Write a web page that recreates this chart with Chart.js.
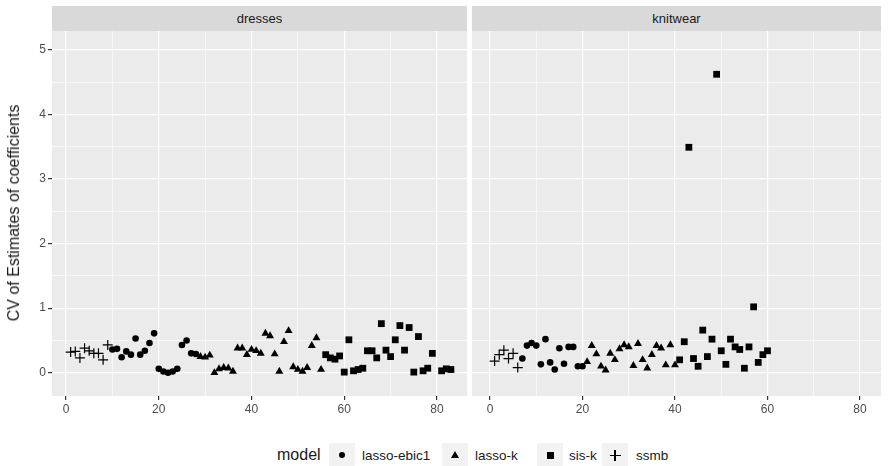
<!DOCTYPE html>
<html lang="en">
  <head>
    <meta charset="UTF-8" />
    <title>CV of Estimates of coefficients</title>
    <script src="https://cdn.jsdelivr.net/npm/chart.js"></script>
    <style>
      body {
          margin: 0;
          width: 888px;
          height: 466px;
          position: relative;
          overflow: hidden;
          background: #fff;
          font-family: "Liberation Sans", Arial, sans-serif;
      }
      .strip {
          position: absolute;
          top: 6px;
          height: 25px;
          line-height: 25px;
          background: #d9d9d9;
          color: #1a1a1a;
          font-size: 13px;
          text-align: center;
      }
      .panel {
          position: absolute;
          top: 31px;
      }
      #ytitle {
          position: absolute;
          left: 14px;
          top: 213px;
          transform: translate(-50%, -50%) rotate(-90deg);
          font-size: 16px;
          color: #1a1a1a;
          white-space: nowrap;
      }
      .ltitle, .lab {
          position: absolute;
          top: 455px;
          transform: translateY(-50%);
          white-space: nowrap;
          color: #1a1a1a;
      }
      .ltitle { font-size: 16px; }
      .lab { font-size: 13.5px; }
      .key {
          position: absolute;
          top: 443px;
          width: 26px;
          height: 24px;
          background: #f2f2f2;
      }
      .key div { position: absolute; background: #000; }
    </style>
  </head>
  <body>
    <div class="strip" id="strip1" style="left:52px; width:415px;"></div>
    <div class="strip" id="strip2" style="left:472px; width:409px;"></div>
    <canvas class="panel" id="dressesChart" width="467" height="389" style="left:0px;"></canvas>
    <canvas class="panel" id="knitChart" width="409" height="389" style="left:472px;"></canvas>
    <div id="ytitle">CV of Estimates of coefficients</div>
    <div id="legend"></div>

    <script>
      var facets = ["dresses", "knitwear"];
      var models = ["lasso-ebic1", "lasso-k", "sis-k", "ssmb"];
      var xTicks = [0, 20, 40, 60, 80];
      var yTicks = [0, 1, 2, 3, 4, 5];

      // dresses
      var dressSsmbX = [1, 2, 3, 4, 5, 6, 7, 8, 9];
      var dressSsmbY = [0.32, 0.33, 0.23, 0.38, 0.34, 0.30, 0.30, 0.20, 0.43];
      var dressEbicX = [10, 11, 12, 13, 14, 15, 16, 17, 18, 19, 20, 21, 22, 23, 24, 25, 26, 27, 28];
      var dressEbicY = [0.36, 0.37, 0.24, 0.33, 0.28, 0.53, 0.28, 0.34, 0.46, 0.61,
                        0.06, 0.02, 0.00, 0.02, 0.06, 0.43, 0.50, 0.30, 0.29];
      var dressLassoX = [29, 30, 31, 32, 33, 34, 35, 36, 37, 38, 39, 40, 41, 42,
                         43, 44, 45, 46, 47, 48, 49, 50, 51, 52, 53, 54, 55];
      var dressLassoY = [0.25, 0.24, 0.27, 0.00, 0.06, 0.08, 0.07, 0.02, 0.38, 0.38, 0.28, 0.36, 0.34, 0.30,
                         0.61, 0.57, 0.29, 0.02, 0.48, 0.65, 0.09, 0.05, 0.02, 0.08, 0.42, 0.54, 0.05];
      var dressSisX = [56, 57, 58, 59, 60, 61, 62, 63, 64, 65, 66, 67, 68, 69,
                       70, 71, 72, 73, 74, 75, 76, 77, 78, 79, 81, 82, 83];
      var dressSisY = [0.28, 0.23, 0.21, 0.26, 0.01, 0.51, 0.03, 0.05, 0.07, 0.34, 0.34, 0.23, 0.76, 0.35,
                       0.25, 0.51, 0.73, 0.35, 0.70, 0.01, 0.56, 0.03, 0.07, 0.30, 0.03, 0.06, 0.05];

      // knitwear
      var knitSsmbX = [1, 2, 3, 4, 5, 6];
      var knitSsmbY = [0.18, 0.28, 0.35, 0.22, 0.30, 0.08];
      var knitEbicX = [7, 8, 9, 10, 11, 12, 13, 14, 15, 16, 17, 18, 19, 20];
      var knitEbicY = [0.22, 0.42, 0.46, 0.42, 0.13, 0.52, 0.16, 0.05, 0.38, 0.14, 0.40, 0.40, 0.10, 0.10];
      var knitLassoX = [21, 22, 23, 24, 25, 26, 27, 28, 29, 30, 31, 32, 33, 34, 35, 36, 37, 38, 39, 40];
      var knitLassoY = [0.17, 0.42, 0.29, 0.10, 0.04, 0.30, 0.20, 0.37, 0.43, 0.40,
                        0.11, 0.45, 0.20, 0.07, 0.28, 0.42, 0.38, 0.12, 0.43, 0.12];
      var knitSisX = [41, 42, 43, 44, 45, 46, 47, 48, 49, 50, 51, 52, 53, 54, 55, 56, 57, 58, 59, 60];
      var knitSisY = [0.20, 0.48, 3.49, 0.22, 0.10, 0.66, 0.25, 0.52, 4.62, 0.34,
                      0.13, 0.52, 0.40, 0.36, 0.07, 0.40, 1.02, 0.16, 0.28, 0.34];

      document.getElementById("strip1").textContent = facets[0];
      document.getElementById("strip2").textContent = facets[1];

      function pts(xs, ys) {
        return xs.map(function (x, i) { return { x: x, y: ys[i] }; });
      }

      var shapes = {
        "lasso-ebic1": { pointStyle: "circle", pointRadius: 3.3 },
        "lasso-k": { pointStyle: "triangle", pointRadius: 4.6 },
        "sis-k": { pointStyle: "rect", pointRadius: 4.8 },
        "ssmb": { pointStyle: "cross", pointRadius: 5 },
      };

      function makeSets(series) {
        return models.map(function (m, i) {
          var s = shapes[m];
          return {
            label: m,
            data: pts(series[i][0], series[i][1]),
            pointStyle: s.pointStyle,
            pointRadius: s.pointRadius,
            backgroundColor: "#000",
            borderColor: "#000",
            borderWidth: m === "ssmb" ? 1.2 : 0,
          };
        });
      }

      var panelBg = {
        id: "panelBg",
        beforeDraw: function (chart) {
          var a = chart.chartArea;
          var c = chart.ctx;
          c.save();
          c.fillStyle = "#ebebeb";
          c.fillRect(a.left, a.top, a.right - a.left, a.bottom - a.top);
          c.restore();
        },
      };

      function isMajor(list, v) {
        return list.some(function (t) { return Math.abs(t - v) < 1e-6; });
      }

      function makePanel(id, sets, xMin, xMax, showY) {
        var xGrid = [];
        for (var v = 0; v <= 80; v += 10) xGrid.push(v);
        var yGrid = [];
        for (var w = 0; w <= 5; w += 0.5) yGrid.push(w);

        return new Chart(document.getElementById(id), {
          type: "scatter",
          data: { datasets: sets },
          plugins: [panelBg],
          options: {
            responsive: false,
            animation: false,
            layout: { padding: 0, autoPadding: false },
            plugins: { legend: { display: false }, tooltip: { enabled: false } },
            scales: {
              x: {
                type: "linear",
                min: xMin,
                max: xMax,
                afterBuildTicks: function (s) {
                  s.ticks = xGrid.map(function (t) { return { value: t }; });
                },
                afterFit: function (s) {
                  s.height = 24;
                  s.paddingLeft = 0;
                  s.paddingRight = 0;
                },
                border: { display: false },
                grid: {
                  color: "#ffffff",
                  lineWidth: function (ctx) { return isMajor(xTicks, ctx.tick.value) ? 1.2 : 0.6; },
                  tickColor: function (ctx) { return isMajor(xTicks, ctx.tick.value) ? "#333333" : "rgba(0,0,0,0)"; },
                  tickLength: 4,
                },
                ticks: {
                  autoSkip: false,
                  maxRotation: 0,
                  padding: 2,
                  color: "#4d4d4d",
                  font: { size: 12, family: "'Liberation Sans', Arial, sans-serif" },
                  callback: function (value) { return isMajor(xTicks, value) ? String(value) : ""; },
                },
              },
              y: {
                type: "linear",
                min: -0.36,
                max: 5.29,
                afterBuildTicks: function (s) {
                  s.ticks = yGrid.map(function (t) { return { value: t }; });
                },
                afterFit: function (s) {
                  s.width = showY ? 52 : 0;
                  s.paddingTop = 0;
                  s.paddingBottom = 0;
                },
                border: { display: false },
                grid: {
                  color: "#ffffff",
                  lineWidth: function (ctx) { return isMajor(yTicks, ctx.tick.value) ? 1.2 : 0.6; },
                  tickColor: function (ctx) { return isMajor(yTicks, ctx.tick.value) ? "#333333" : "rgba(0,0,0,0)"; },
                  drawTicks: showY,
                  tickLength: 4,
                },
                ticks: {
                  display: showY,
                  autoSkip: false,
                  padding: 2,
                  color: "#4d4d4d",
                  font: { size: 12, family: "'Liberation Sans', Arial, sans-serif" },
                  callback: function (value) { return isMajor(yTicks, value) ? String(value) : ""; },
                },
              },
            },
          },
        });
      }

      var dressesChart = makePanel("dressesChart", makeSets([
        [dressEbicX, dressEbicY], [dressLassoX, dressLassoY], [dressSisX, dressSisY], [dressSsmbX, dressSsmbY]
      ]), -3.02, 86.47, true);

      var knitChart = makePanel("knitChart", makeSets([
        [knitEbicX, knitEbicY], [knitLassoX, knitLassoY], [knitSisX, knitSisY], [knitSsmbX, knitSsmbY]
      ]), -3.89, 84.54, false);

      // legend
      var legend = document.getElementById("legend");
      var keyLeft = [329, 442, 537, 602];
      var labLeft = [362, 475, 569, 636];
      var t = document.createElement("span");
      t.className = "ltitle";
      t.style.left = "277px";
      t.textContent = "model";
      legend.appendChild(t);

      function keyShape(m) {
        if (m === "lasso-ebic1") return '<div style="left:10px;top:9px;width:6px;height:6px;border-radius:50%"></div>';
        if (m === "lasso-k") return '<div style="left:9px;top:8px;width:0;height:0;background:none;border-left:4px solid transparent;border-right:4px solid transparent;border-bottom:7px solid #000"></div>';
        if (m === "sis-k") return '<div style="left:9.5px;top:8.5px;width:7px;height:7px"></div>';
        return '<div style="left:7.5px;top:11.5px;width:11px;height:1.2px"></div><div style="left:12.4px;top:6.6px;width:1.2px;height:11px"></div>';
      }

      models.forEach(function (m, i) {
        var k = document.createElement("div");
        k.className = "key";
        k.style.left = keyLeft[i] + "px";
        k.innerHTML = keyShape(m);
        legend.appendChild(k);
        var l = document.createElement("span");
        l.className = "lab";
        l.style.left = labLeft[i] + "px";
        l.textContent = m;
        legend.appendChild(l);
      });
    </script>
  </body>
</html>
